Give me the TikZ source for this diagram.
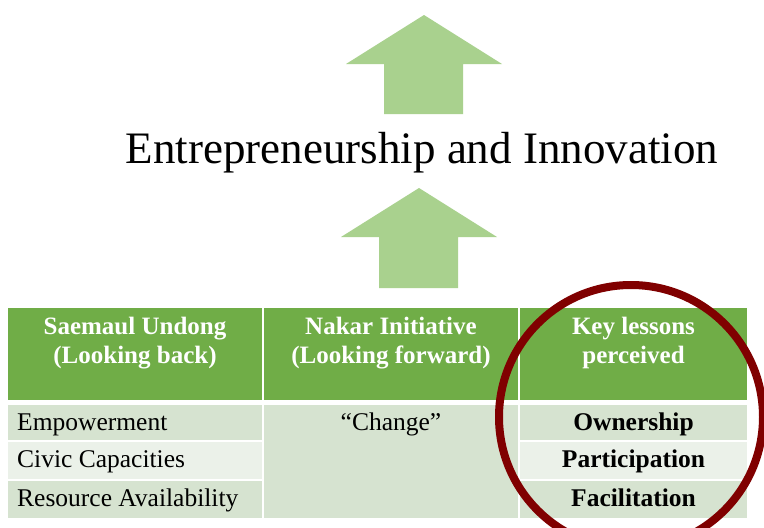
\documentclass[tikz,border=0pt]{standalone}
\usepackage{fontspec}
\setmainfont{Liberation Serif}
\definecolor{hdrgreen}{HTML}{70AD47}
\definecolor{bandA}{HTML}{D6E3D0}
\definecolor{bandB}{HTML}{EBF1E9}
\definecolor{arrowgreen}{HTML}{A9D18E}
\definecolor{circred}{HTML}{800000}
\tikzset{
  cell/.style={draw=white, line width=1.5pt, inner sep=0pt, outer sep=0pt},
  hdrcell/.style={cell, fill=hdrgreen},
  hdrtext/.style={text=white, font=\fontsize{25}{29}\selectfont\bfseries, align=center, anchor=base, inner sep=0pt},
  bodytext/.style={font=\fontsize{25.5}{28}\selectfont, anchor=base, inner sep=0pt},
  keytext/.style={font=\fontsize{25.5}{28}\selectfont\bfseries, anchor=base, inner sep=0pt},
  uparrow/.style={fill=arrowgreen, draw=none},
}
\begin{document}
\begin{tikzpicture}[x=1pt,y=-1pt]
\clip (0,0) rectangle (764,528);
\fill[white] (0,0) rectangle (764,528);
% arrows
\path[uparrow] (424,15) -- (502,64) -- (463,64) -- (463,114) -- (384,114) -- (384,64) -- (346,64) -- cycle;
\path[uparrow] (419,188) -- (497,237) -- (458,237) -- (458,288) -- (379,288) -- (379,237) -- (341,237) -- cycle;
% title
\node[font=\fontsize{45}{48}\selectfont, anchor=base, inner sep=0pt] (title) at (422,163) {Entrepreneurship and Innovation};
% header cells
\node[hdrcell, minimum width=256pt, minimum height=94pt] (h1) at (135,354) {};
\node[hdrcell, minimum width=256pt, minimum height=94pt] (h2) at (391,354) {};
\node[hdrcell, minimum width=229pt, minimum height=94pt] (h3) at (633.5,354) {};
% body cells
\node[cell, fill=bandA, minimum width=256pt, minimum height=37pt] (a1) at (135,422.5) {};
\node[cell, fill=bandB, minimum width=256pt, minimum height=39pt] (a2) at (135,460.5) {};
\node[cell, fill=bandA, minimum width=256pt, minimum height=39pt] (a3) at (135,499.5) {};
\node[cell, fill=bandA, minimum width=256pt, minimum height=115pt] (m) at (391,461.5) {};
\node[cell, fill=bandA, minimum width=229pt, minimum height=37pt] (k1) at (633.5,422.5) {};
\node[cell, fill=bandB, minimum width=229pt, minimum height=39pt] (k2) at (633.5,460.5) {};
\node[cell, fill=bandA, minimum width=229pt, minimum height=39pt] (k3) at (633.5,499.5) {};
% header texts (anchor base = last line baseline)
\node[hdrtext] (t1) at (135,363) {Saemaul Undong\\(Looking back)};
\node[hdrtext] (t2) at (391,363) {Nakar Initiative\\(Looking forward)};
\node[hdrtext] (t3) at (633.5,363) {Key lessons\\perceived};
% body texts
\node[bodytext, anchor=base west] (e1) at (17,430) {Empowerment};
\node[bodytext, anchor=base west] (e2) at (17,467) {Civic Capacities};
\node[bodytext, anchor=base west] (e3) at (17,506) {Resource Availability};
\node[bodytext] (ch) at (391,430) {“Change”};
\node[keytext] (o1) at (633.5,430) {Ownership};
\node[keytext] (o2) at (633.5,467) {Participation};
\node[keytext] (o3) at (633.5,506) {Facilitation};
% circle
\node[circle, draw=circred, line width=8pt, minimum size=264pt, inner sep=0pt] (focus) at (631,417) {};
\end{tikzpicture}
\end{document}
